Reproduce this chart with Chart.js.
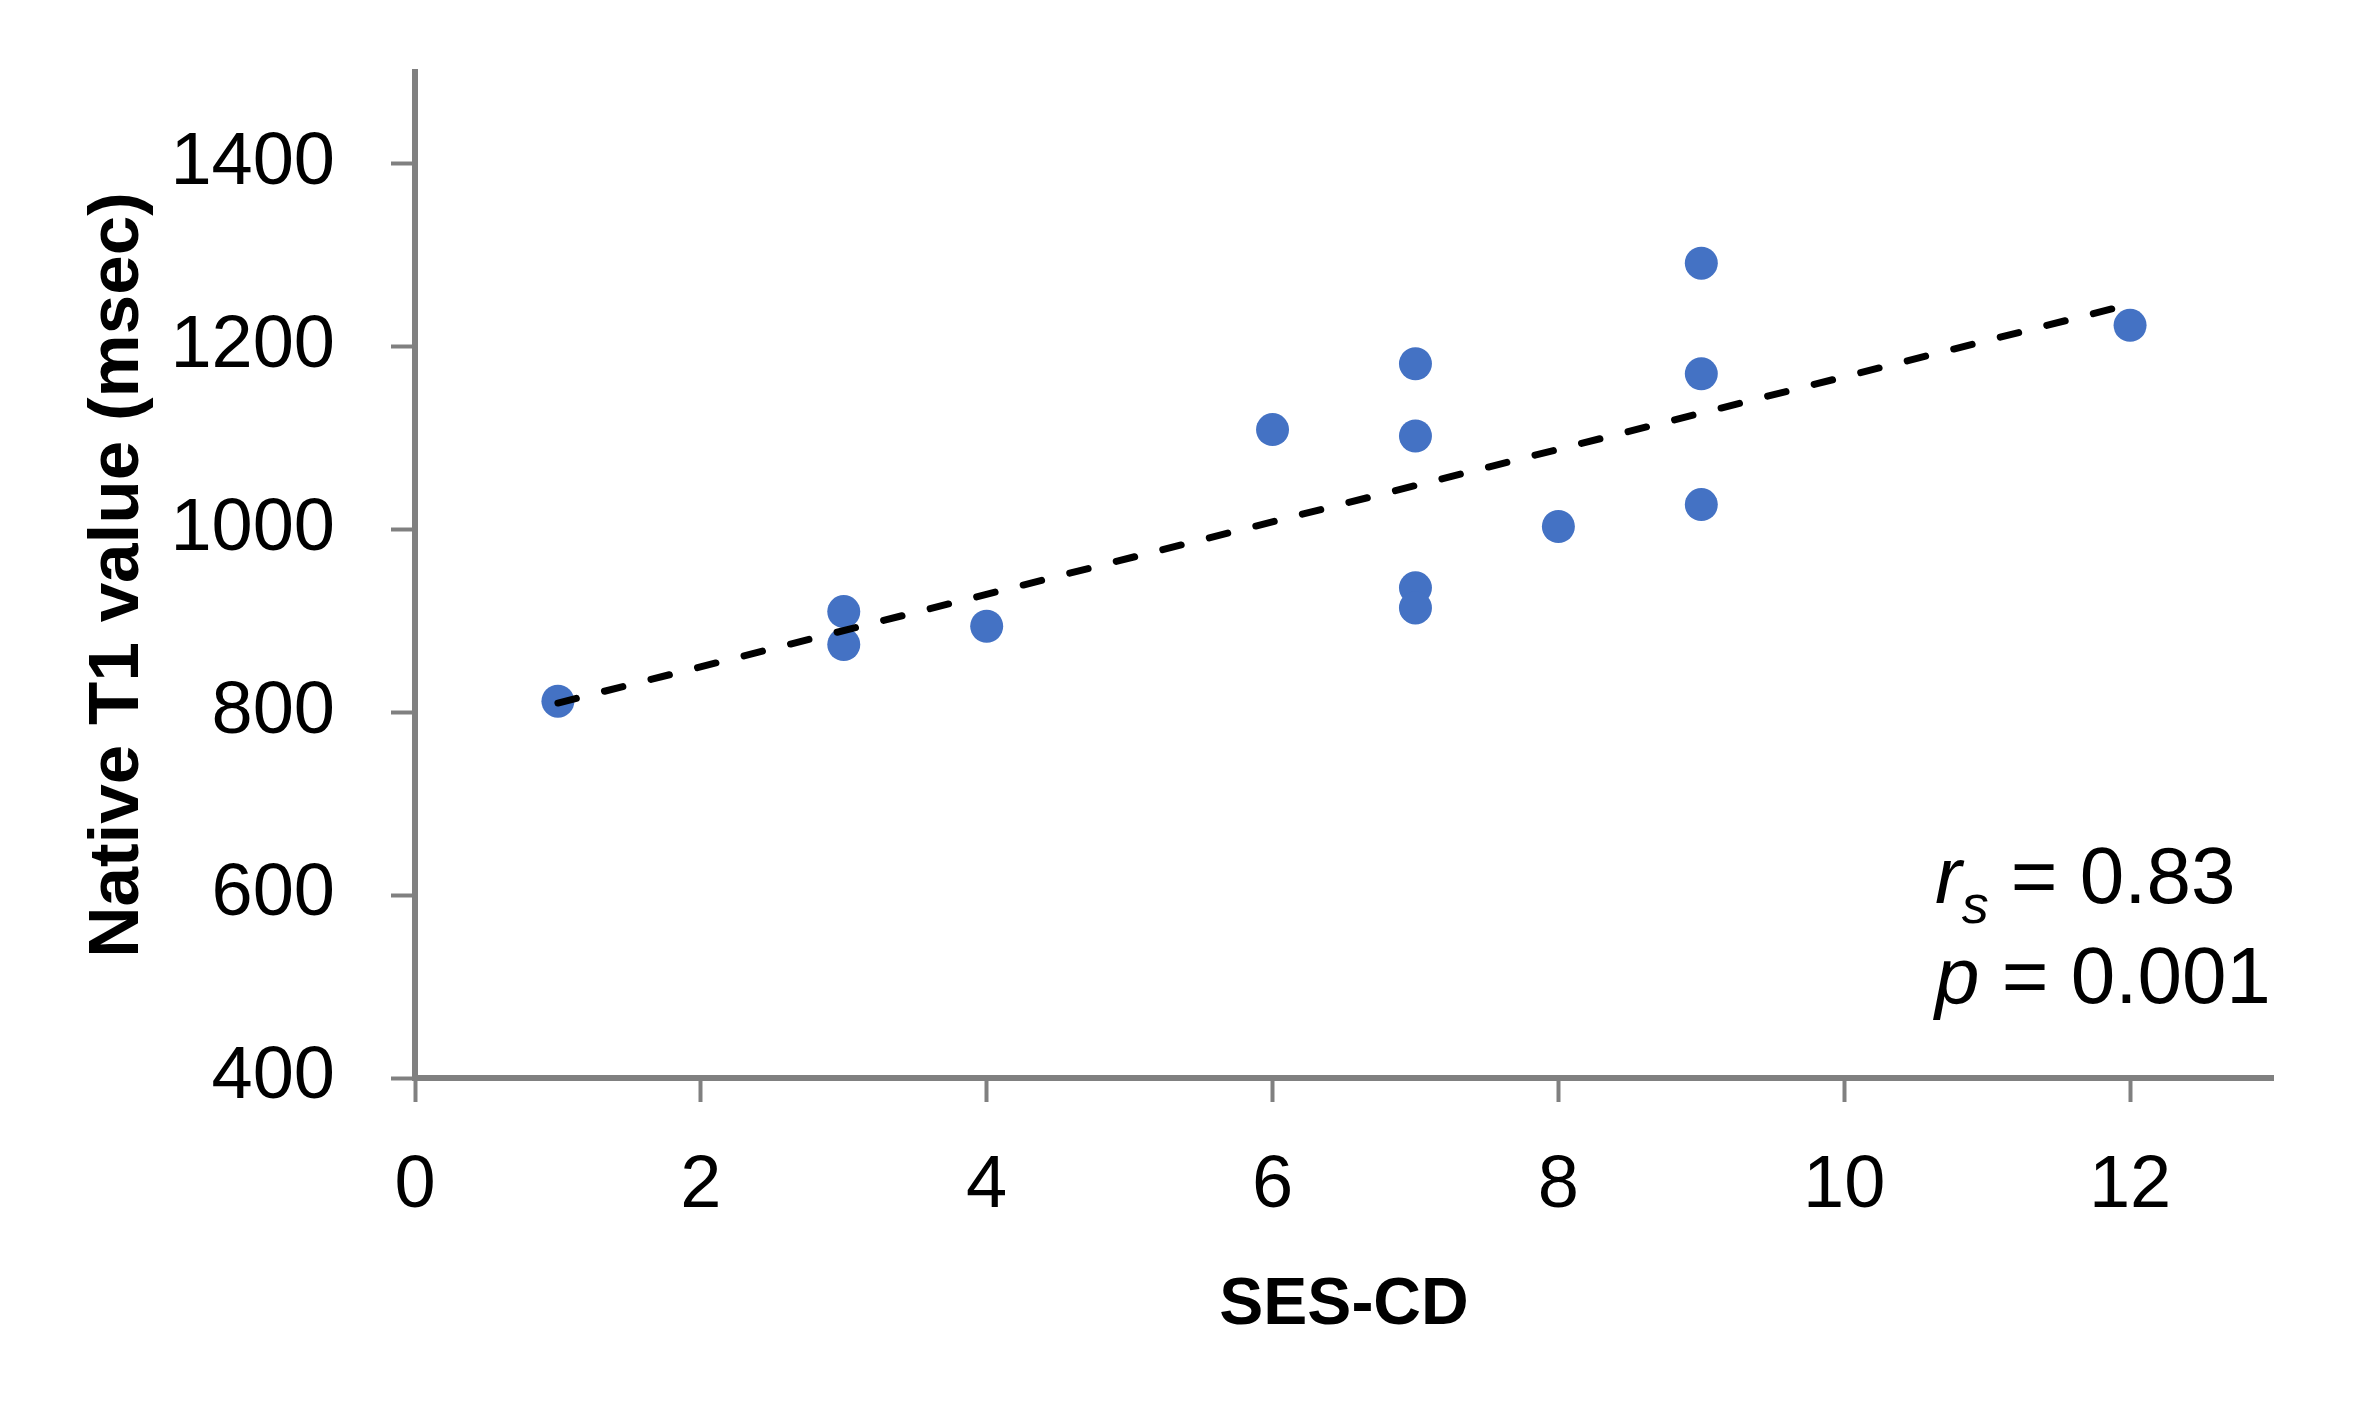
<!DOCTYPE html>
<html>
<head>
<meta charset="utf-8">
<script src="https://cdn.jsdelivr.net/npm/chart.js@4.4.1/dist/chart.umd.min.js"></script>
<style>
  html, body { margin: 0; padding: 0; background: #fff; }
  #wrap { width: 2368px; height: 1405px; position: relative; }
</style>
</head>
<body>
<div id="wrap"><canvas id="t1Chart"></canvas></div>
<script>
// values
const sesCd = [1, 3, 3, 4, 6, 7, 7, 7, 7, 8, 9, 9, 9, 12];
const nativeT1 = [812, 910, 874, 894, 1109, 1181, 1102, 936, 914, 1003, 1291, 1170, 1027, 1223];
const trendX = [1, 12];
const trendY = [810, 1246];
const xAxis = { min: 0, max: 13, step: 2, title: 'SES-CD' };
const yAxis = { min: 400, max: 1500, step: 200, title: 'Native T1 value (msec)' };
const stats = { r: '0.83', p: '0.001' };

const axisGrey = '#808080';
const fam = '"Liberation Sans", Arial, sans-serif';
const tickFont = { family: fam, size: 74 };

const statsPlugin = {
  id: 'stats',
  afterDraw(chart) {
    const { ctx, chartArea } = chart;
    const x0 = chartArea.right - 338;
    const base1 = chartArea.bottom - 175;
    const base2 = chartArea.bottom - 75;
    ctx.save();
    ctx.fillStyle = '#000';
    ctx.textBaseline = 'alphabetic';
    ctx.textAlign = 'left';
    // r_s = 0.83
    let x = x0;
    ctx.font = 'italic 80px ' + fam;
    ctx.fillText('r', x, base1);
    x += ctx.measureText('r').width;
    ctx.font = 'italic 54px ' + fam;
    ctx.fillText('s', x, base1 + 20);
    x += ctx.measureText('s').width;
    ctx.font = '80px ' + fam;
    ctx.fillText(' = ' + stats.r, x, base1);
    // p = 0.001
    x = x0;
    ctx.font = 'italic 80px ' + fam;
    ctx.fillText('p', x, base2);
    x += ctx.measureText('p').width;
    ctx.font = '80px ' + fam;
    ctx.fillText(' = ' + stats.p, x, base2);
    ctx.restore();
  }
};

const ctx = document.getElementById('t1Chart').getContext('2d');
new Chart(ctx, {
  type: 'scatter',
  data: {
    datasets: [{
      type: 'line',
      label: 'Trend',
      data: trendX.map((x, i) => ({ x: x, y: trendY[i] })),
      borderColor: '#000',
      borderWidth: 7,
      borderDash: [19, 29],
      borderCapStyle: 'round',
      pointRadius: 0,
      fill: false,
      order: 0
    }, {
      label: 'Patients',
      data: sesCd.map((x, i) => ({ x: x, y: nativeT1[i] })),
      backgroundColor: '#4472C4',
      borderColor: '#4472C4',
      borderWidth: 0,
      pointRadius: 16.5,
      order: 1
    }]
  },
  options: {
    responsive: true,
    maintainAspectRatio: false,
    animation: false,
    devicePixelRatio: 1,
    layout: { padding: { left: 0, top: 72, right: 95, bottom: 0 } },
    plugins: {
      legend: { display: false },
      tooltip: { enabled: false }
    },
    scales: {
      x: {
        type: 'linear',
        min: xAxis.min,
        max: xAxis.max,
        afterFit(scale) { scale.height = 327; scale.paddingLeft = 0; scale.paddingRight = 0; },
        border: { color: axisGrey, width: 6 },
        grid: { drawOnChartArea: false, drawTicks: true, tickLength: 24, tickWidth: 4, tickColor: axisGrey },
        ticks: { stepSize: xAxis.step, includeBounds: false, padding: 40, color: '#000', font: tickFont, maxRotation: 0, callback: v => String(v) },
        title: { display: true, text: xAxis.title, color: '#000', font: { family: fam, size: 66, weight: 'bold' }, padding: { top: 0, bottom: 60 } }
      },
      y: {
        type: 'linear',
        min: yAxis.min,
        max: yAxis.max,
        afterFit(scale) { scale.width = 415; scale.paddingTop = 0; scale.paddingBottom = 0; },
        border: { color: axisGrey, width: 6 },
        grid: { drawOnChartArea: false, drawTicks: true, tickLength: 24, tickWidth: 4, tickColor: axisGrey },
        ticks: { stepSize: yAxis.step, includeBounds: false, padding: 56, color: '#000', font: tickFont, callback: v => String(v) },
        title: { display: true, text: yAxis.title, color: '#000', font: { family: fam, size: 71, weight: 'bold' }, padding: { top: 76, bottom: 0 } }
      }
    }
  },
  plugins: [statsPlugin]
});
</script>
</body>
</html>
